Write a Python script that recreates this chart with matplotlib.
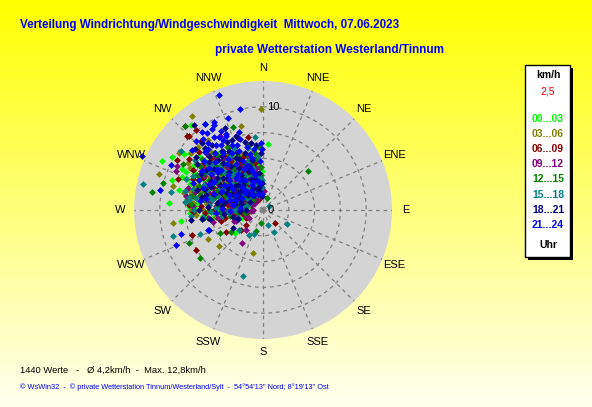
import numpy as np
import matplotlib.pyplot as plt
from matplotlib.patches import Rectangle

# wind direction (deg) and speed (km/h) per 3-hour block
h00_03 = [(296, 10.9), (274, 9.1), (262, 8.0), (231, 3.5), (4, 6.4), (320, 10.8), (305, 9.4),
          (288, 9.3), (297, 8.8), (308, 9.0), (300, 10.2), (283, 8.4), (268, 7.1),
          (310, 7.2), (302, 6.8), (318, 6.1), (295, 5.9), (325, 5.2), (290, 4.8), (305, 4.5),
          (315, 4.0), (335, 3.6), (285, 3.2), (300, 3.0), (320, 2.6), (340, 2.2), (275, 2.4),
          (296, 1.8), (330, 1.5), (312, 5.6), (298, 7.6), (322, 7.0), (288, 6.3), (308, 3.4),
          (280, 5.2), (327, 4.4), (293, 2.7), (345, 3.0), (316, 6.6), (303, 5.0), (283, 4.1),
          (262, 3.0), (250, 2.2), (338, 5.5), (310, 8.1), (292, 7.9), (332, 6.2), (270, 4.4),
          (265, 5.5), (272, 6.6), (278, 7.4), (284, 7.0), (290, 7.5), (296, 8.3), (303, 8.0),
          (287, 3.8), (293, 5.2), (299, 4.0), (306, 6.2), (313, 7.0), (319, 4.7), (324, 6.0),
          (331, 3.0), (337, 4.2), (343, 5.0), (349, 2.6), (355, 1.9), (358, 3.8), (262, 4.8),
          (268, 3.6), (276, 1.6), (283, 2.2), (289, 1.2), (301, 2.2), (307, 1.5), (314, 2.2),
          (321, 3.4), (328, 5.6), (334, 6.8), (341, 1.3), (352, 4.4), (297, 6.4), (304, 3.6),
          (311, 4.9), (280, 6.0), (286, 5.5), (318, 5.3), (326, 1.9),
          (268, 6.6), (272, 7.2), (264, 5.8), (300, 6.9), (292, 8.5), (276, 6.4), (285, 6.8),
          (330, 4.0), (340, 3.8), (354, 4.8)]
h03_06 = [(359, 9.8), (289, 10.7), (304, 9.8), (285, 9.0), (262, 8.8), (242, 6.0), (231, 5.5),
          (193, 4.3), (323, 11.4), (322, 8.6), (345, 8.4),
          (300, 6.5), (315, 5.8), (290, 5.0), (325, 4.6), (308, 4.2), (335, 3.8), (285, 3.5),
          (318, 3.0), (298, 2.5), (345, 2.0), (270, 2.0), (310, 1.6), (330, 7.0), (305, 7.4),
          (292, 6.0), (320, 5.2), (280, 4.3), (340, 4.8), (300, 3.7), (312, 2.8), (326, 2.4),
          (288, 2.1), (255, 1.6), (350, 3.4), (295, 6.9), (316, 6.8), (276, 5.5), (302, 4.7),
          (333, 5.8), (285, 7.3), (310, 5.6), (260, 2.6),
          (264, 4.0), (270, 5.8), (276, 6.8), (282, 7.8), (288, 4.5), (294, 3.3), (300, 8.2),
          (306, 5.3), (312, 6.3), (318, 7.5), (324, 3.9), (330, 5.1), (336, 2.0), (342, 3.2),
          (348, 4.4), (354, 2.3), (358, 1.4), (266, 2.8), (273, 3.3), (279, 2.6), (286, 6.4),
          (292, 1.3), (298, 5.6), (304, 2.2), (310, 3.3), (316, 4.4), (322, 1.7), (328, 6.4),
          (334, 3.0), (340, 5.8), (346, 1.4), (352, 5.2), (290, 7.0), (302, 6.0), (314, 1.2),
          (320, 6.0), (284, 5.0), (296, 4.2), (308, 7.0), (326, 3.1),
          (314, 8.8), (308, 8.9), (266, 6.5), (270, 7.0), (350, 5.8), (262, 4.6), (302, 8.6),
          (281, 6.8)]
h06_09 = [(251, 7.3), (239, 7.6), (239, 4.2), (228, 2.9), (136, 1.7), (348, 7.2), (315, 10.2),
          (320, 10.1), (314, 10.3), (317, 11.1), (290, 8.8), (341, 7.4), (300, 9.6),
          (305, 6.0), (320, 5.5), (295, 5.3), (310, 4.6), (330, 4.2), (285, 4.0), (300, 3.5),
          (315, 3.1), (340, 2.8), (275, 2.9), (290, 2.3), (325, 2.0), (350, 1.6), (260, 2.0),
          (245, 1.8), (305, 1.2), (330, 6.4), (315, 7.1), (300, 7.8), (282, 6.2), (296, 4.4),
          (322, 3.6), (335, 5.0), (270, 3.8), (310, 2.5), (345, 2.4), (286, 1.6), (230, 2.2),
          (318, 6.6), (292, 5.8),
          (263, 3.0), (269, 4.8), (274, 6.0), (280, 7.2), (286, 5.2), (292, 3.3), (298, 6.6),
          (304, 4.4), (309, 7.3), (315, 5.0), (321, 4.2), (327, 5.7), (333, 3.2), (339, 5.5),
          (345, 3.8), (351, 3.0), (356, 2.0), (267, 5.6), (272, 1.8), (278, 3.4), (284, 1.8),
          (290, 6.5), (296, 2.6), (302, 5.1), (308, 1.8), (314, 3.8), (320, 7.2), (326, 2.8),
          (332, 1.1), (338, 4.0), (344, 1.2), (350, 4.6), (288, 4.2), (300, 2.0), (312, 5.6),
          (324, 6.5), (282, 3.0), (294, 7.4), (306, 3.2), (318, 2.3),
          (312, 8.4), (318, 9.0), (274, 7.2), (258, 3.8), (262, 1.6), (255, 4.2), (268, 6.8),
          (305, 8.7)]
h09_12 = [(213, 3.8), (3, 1.8), (351, 4.1), (297, 9.4), (294, 9.2), (330, 8.3), (280, 7.6),
          (250, 3.0), (220, 2.5),
          (310, 5.8), (300, 5.0), (325, 4.8), (290, 4.5), (315, 3.9), (335, 3.3), (305, 3.0),
          (280, 3.2), (320, 2.5), (345, 2.0), (295, 2.0), (330, 1.5), (265, 2.4), (355, 2.7),
          (310, 1.0), (300, 6.6), (318, 6.9), (288, 5.6), (328, 5.9), (340, 4.2), (275, 4.6),
          (312, 4.3), (297, 3.6), (350, 3.6), (282, 2.5), (240, 1.6), (325, 1.2), (305, 7.2),
          (262, 5.4), (268, 3.0), (273, 6.8), (279, 5.2), (285, 6.8), (291, 2.9), (297, 4.8),
          (303, 5.8), (309, 6.5), (315, 7.6), (320, 5.3), (326, 3.5), (332, 4.6), (338, 2.3),
          (344, 5.3), (350, 1.4), (356, 4.2), (265, 1.6), (270, 3.8), (276, 2.7), (282, 4.4),
          (288, 1.9), (294, 6.2), (300, 3.9), (306, 2.4), (312, 3.0), (318, 5.9), (324, 2.3),
          (330, 6.4), (336, 4.7), (342, 3.4), (348, 2.6), (286, 7.6), (296, 1.2), (308, 4.9),
          (316, 1.8), (322, 6.3), (290, 5.1), (302, 7.1), (334, 5.5),
          (258, 2.6), (255, 1.8), (264, 3.2), (260, 4.4), (248, 2.8), (266, 1.2), (256, 5.0),
          (270, 1.0)]
h12_15 = [(279, 10.9), (246, 7.8), (233, 7.7), (242, 4.7), (235, 3.8), (199, 2.2), (190, 1.25),
          (49, 5.8), (17, 1.25), (340, 8.6), (317, 11.1), (285, 10.0), (300, 9.0),
          (305, 6.4), (315, 5.9), (295, 5.4), (325, 5.0), (285, 4.8), (310, 4.2), (300, 3.8),
          (330, 3.5), (290, 3.0), (320, 2.8), (340, 2.6), (275, 2.6), (305, 2.2), (350, 1.8),
          (260, 1.8), (315, 1.4), (320, 6.8), (298, 7.2), (310, 7.7), (280, 5.8), (335, 4.4),
          (292, 4.0), (325, 3.2), (268, 3.4), (345, 4.6), (302, 5.2), (312, 3.3),
          (264, 2.4), (270, 5.2), (275, 4.3), (281, 7.0), (287, 5.9), (293, 4.8), (299, 6.0),
          (305, 7.4), (311, 5.4), (317, 3.6), (323, 4.5), (329, 6.2), (335, 5.8), (341, 3.6),
          (347, 3.0), (353, 2.4), (357, 3.4), (267, 4.2), (273, 2.1), (279, 3.9), (285, 2.5),
          (291, 6.6), (297, 2.4), (303, 4.5), (309, 2.9), (315, 4.7), (321, 1.8), (327, 4.2),
          (333, 2.0), (339, 4.8), (345, 1.5), (351, 5.0), (289, 3.5), (301, 6.8), (313, 6.2),
          (319, 7.3), (283, 6.3), (295, 1.6), (307, 3.6), (331, 7.0),
          (352, 5.6), (356, 6.1), (348, 6.4), (260, 3.2), (262, 5.8), (343, 5.7), (357, 4.2),
          (275, 7.0)]
h15_18 = [(282, 11.9), (281, 9.1), (254, 9.1), (249, 6.5), (197, 6.7), (120, 2.7), (160, 1.5),
          (154, 2.4), (58, 0.7), (359, 2.9), (354, 7.1), (306, 9.8), (306, 8.2), (200, 2.5),
          (300, 5.6), (315, 5.1), (290, 5.8), (325, 4.4), (305, 4.0), (285, 3.6), (320, 3.6),
          (295, 3.2), (335, 2.9), (310, 2.6), (270, 2.8), (345, 1.9), (290, 1.5), (325, 2.2),
          (300, 7.0), (312, 6.6), (280, 6.6), (328, 6.0), (296, 4.6), (340, 3.4), (262, 4.0),
          (305, 1.8), (318, 4.5), (286, 4.4), (253, 2.5), (230, 3.0), (210, 2.8),
          (263, 5.9), (269, 2.5), (275, 5.3), (281, 5.0), (287, 7.1), (293, 6.2), (299, 4.3),
          (305, 5.2), (311, 3.8), (317, 6.0), (323, 2.7), (329, 4.5), (335, 6.6), (341, 2.6),
          (347, 4.2), (353, 3.3), (357, 2.2), (266, 3.4), (272, 4.6), (278, 1.9), (284, 5.4),
          (290, 3.5), (296, 7.5), (302, 2.7), (308, 6.0), (314, 5.4), (320, 4.8), (326, 6.9),
          (332, 3.8), (338, 1.6), (344, 5.0), (350, 2.0), (286, 2.7), (298, 1.4), (310, 7.1),
          (322, 5.7), (280, 7.3), (292, 8.0), (304, 6.6), (316, 2.9),
          (265, 7.0), (270, 6.7), (276, 7.6), (268, 5.0), (284, 7.8), (278, 7.2), (355, 5.3),
          (346, 6.2)]
h18_21 = [(321, 10.6), (326, 10.0), (340, 7.6), (335, 8.8),
          (310, 6.2), (320, 6.0), (325, 7.0), (330, 6.6), (315, 7.4), (305, 5.4), (300, 4.8),
          (318, 4.9), (335, 5.4), (340, 4.0), (328, 4.0), (310, 3.6), (295, 3.9), (345, 3.1),
          (322, 3.1), (300, 2.6), (335, 2.4), (350, 2.3), (315, 2.0), (285, 2.2), (330, 1.7),
          (355, 1.4), (300, 1.5), (270, 1.6), (250, 2.6), (240, 3.4), (305, 7.8), (322, 8.0),
          (290, 6.0), (312, 4.6), (282, 3.8), (342, 5.8), (332, 7.5), (260, 5.2), (250, 5.6),
          (262, 7.0),
          (264, 3.8), (270, 6.2), (276, 4.0), (282, 6.0), (288, 3.0), (294, 5.5), (300, 6.9),
          (306, 3.0), (312, 7.0), (318, 6.5), (324, 5.3), (330, 4.7), (336, 6.2), (342, 4.5),
          (348, 5.0), (354, 3.6), (358, 2.6), (267, 2.2), (273, 5.3), (279, 4.5), (285, 5.7),
          (291, 2.3), (297, 3.4), (303, 4.0), (309, 5.0), (315, 3.4), (321, 2.3), (327, 3.5),
          (333, 5.7), (339, 3.2), (345, 2.0), (351, 1.8), (287, 6.7), (299, 5.8), (311, 2.8),
          (323, 6.6), (281, 2.8), (293, 4.4), (305, 6.8), (317, 8.2),
          (354, 6.3), (350, 6.6), (358, 5.5), (312, 8.9), (318, 8.8), (308, 8.3), (262, 6.0),
          (257, 3.0), (345, 6.8), (336, 7.4)]
h21_24 = [(339, 11.9), (347, 10.0), (339, 9.5), (294, 12.8), (281, 10.2), (254, 8.3), (248, 9.1),
          (250, 5.7), (359, 5.9), (330, 9.5), (331, 9.8), (322, 9.6), (326, 10.0), (328, 9.3),
          (332, 8.7), (296, 9.9), (329, 8.3), (334, 8.2), (343, 7.9),
          (320, 7.2), (325, 6.8), (330, 7.8), (315, 6.6), (335, 7.0), (318, 8.0), (310, 5.7),
          (322, 5.6), (330, 5.2), (305, 6.1), (300, 5.5), (338, 6.2), (315, 4.8), (325, 4.3),
          (308, 4.0), (340, 4.6), (295, 4.4), (330, 3.4), (318, 3.0), (345, 3.8), (300, 3.0),
          (312, 2.4), (336, 2.6), (290, 2.8), (350, 2.9), (322, 1.8), (342, 1.6), (295, 6.8),
          (310, 7.4), (326, 8.5), (288, 5.0), (280, 3.0),
          (266, 4.6), (272, 4.0), (278, 6.2), (284, 4.2), (290, 6.2), (296, 5.8), (302, 4.5),
          (308, 6.6), (314, 5.6), (320, 4.0), (326, 6.0), (332, 6.3), (338, 5.1), (344, 4.1),
          (348, 3.5), (353, 2.6), (357, 4.8), (269, 3.2), (275, 2.2), (281, 5.6), (287, 3.3),
          (293, 3.6), (299, 2.3), (305, 3.6), (311, 4.4), (317, 2.6), (323, 3.7), (329, 2.2),
          (335, 4.4), (341, 2.9), (347, 5.6), (355, 1.6), (291, 7.3), (303, 7.0), (315, 8.0),
          (321, 8.4), (327, 7.5), (333, 8.0), (312, 6.0), (324, 7.8),
          (346, 6.3), (352, 6.0), (358, 6.5), (342, 7.2), (316, 9.3), (310, 9.0), (320, 9.0),
          (324, 9.2), (338, 6.8), (348, 5.2)]

blocks = [h00_03, h03_06, h06_09, h09_12, h12_15, h15_18, h18_21, h21_24]
block_labels = ["00...03", "03...06", "06...09", "09...12", "12...15", "15...18", "18...21", "21...24"]
block_colors = ["#00ff00", "#808000", "#800000", "#800080", "#008000", "#008080", "#000080", "#0000ff"]

directions = ["N", "NNE", "NE", "ENE", "E", "ESE", "SE", "SSE",
              "S", "SSW", "SW", "WSW", "W", "WNW", "NW", "NNW"]
rings = [2.5, 5, 7.5, 10]
r_max = 12.5

W, H = 592, 407
fig = plt.figure(figsize=(W / 100, H / 100), dpi=100)

def fx(x):
    return x / W

def fy(y):
    return 1 - y / H

# yellow background gradient
bg = fig.add_axes([0, 0, 1, 1], zorder=-10)
grad = np.linspace(0, 1, 256)[:, None]
img = np.ones((256, 2, 3))
img[:, :, 2] = (grad * 0.94)
bg.imshow(img, aspect="auto", extent=[0, 1, 0, 1])
bg.axis("off")

# polar plot, centre (263, 210) px, radius 129 px
cx, cy, rad = 263, 210, 129
ax = fig.add_axes([fx(cx - rad), fy(cy + rad), 2 * rad / W, 2 * rad / H], projection="polar")
ax.set_theta_zero_location("N")
ax.set_theta_direction(-1)
ax.set_facecolor("#d4d4d4")
ax.set_ylim(0, r_max)
ax.set_yticks(rings)
ax.set_yticklabels([])
ax.set_xticks(np.deg2rad(np.arange(0, 360, 22.5)))
ax.set_xticklabels([])
ax.grid(True, color="#808080", linestyle=(0, (3, 3)), linewidth=0.9)
ax.spines["polar"].set_visible(False)
ax.tick_params(length=0)

for pts, col in zip(blocks, block_colors):
    d = np.array([p[0] for p in pts], dtype=float)
    s = np.array([p[1] for p in pts], dtype=float)
    ax.scatter(np.deg2rad(d), s, marker="D", s=12, color=col, linewidths=0, clip_on=False, zorder=3)

for i, name in enumerate(directions):
    ax.text(np.deg2rad(i * 22.5), 13.8, name, ha="center", va="center",
            fontsize=8, family="Liberation Sans", color="black")

ax.annotate("10", xy=(0, 10), xytext=(3, 0), textcoords="offset points",
            ha="left", va="center", fontsize=8, family="Liberation Sans", zorder=4)
ax.annotate("0", xy=(0, 0), xytext=(3, 0), textcoords="offset points",
            ha="left", va="center", fontsize=8, family="Liberation Sans", zorder=4)

narrow = ["Liberation Sans Narrow", "Liberation Sans", "DejaVu Sans"]
fig.text(fx(20), fy(25), "Verteilung Windrichtung/Windgeschwindigkeit  Mittwoch, 07.06.2023",
         color="#0000ff", fontsize=8.35, weight="bold", family=narrow, va="center")
fig.text(fx(215), fy(50), "private Wetterstation Westerland/Tinnum",
         color="#0000ff", fontsize=8.45, weight="bold", family=narrow, va="center")
fig.text(fx(20), fy(370), "1440 Werte   -   \u00d8 4,2km/h  -  Max. 12,8km/h",
         color="black", fontsize=6.75, family=narrow, va="center")
fig.text(fx(20), fy(387),
         "\u00a9 WsWin32  -  \u00a9 private Wetterstation Tinnum/Westerland/Sylt  -  "
         "54\u00b054'13'' Nord; 8\u00b019'13'' Ost",
         color="#0000ff", fontsize=5.3, family=narrow, va="center")

# legend box with shadow
bx0, by0, bx1, by1 = 525, 65, 570, 257
fig.patches.append(Rectangle((fx(bx0 + 3), fy(by1 + 3)), (bx1 - bx0) / W, (by1 - by0) / H,
                             transform=fig.transFigure, facecolor="black", edgecolor="none"))
fig.patches.append(Rectangle((fx(bx0), fy(by1)), (bx1 - bx0) / W, (by1 - by0) / H,
                             transform=fig.transFigure, facecolor="white", edgecolor="black",
                             linewidth=1))
lx = fx(548)
fig.text(lx, fy(75), "km/h", ha="center", va="center", fontsize=7.5, weight="bold",
         family="Liberation Sans")
fig.text(lx, fy(92), "2,5", ha="center", va="center", fontsize=7.5, color="#ff0000",
         family="Liberation Sans")
label_y = [119, 134, 149, 164, 179, 195, 210, 225]
for lab, col, y in zip(block_labels, block_colors, label_y):
    fig.text(lx, fy(y), lab, ha="center", va="center", fontsize=7.5, weight="bold",
             color=col, family="Liberation Sans")
fig.text(lx, fy(245), "Uhr", ha="center", va="center", fontsize=7.5, weight="bold",
         family="Liberation Sans")

fig.savefig("out.png", dpi=100)
